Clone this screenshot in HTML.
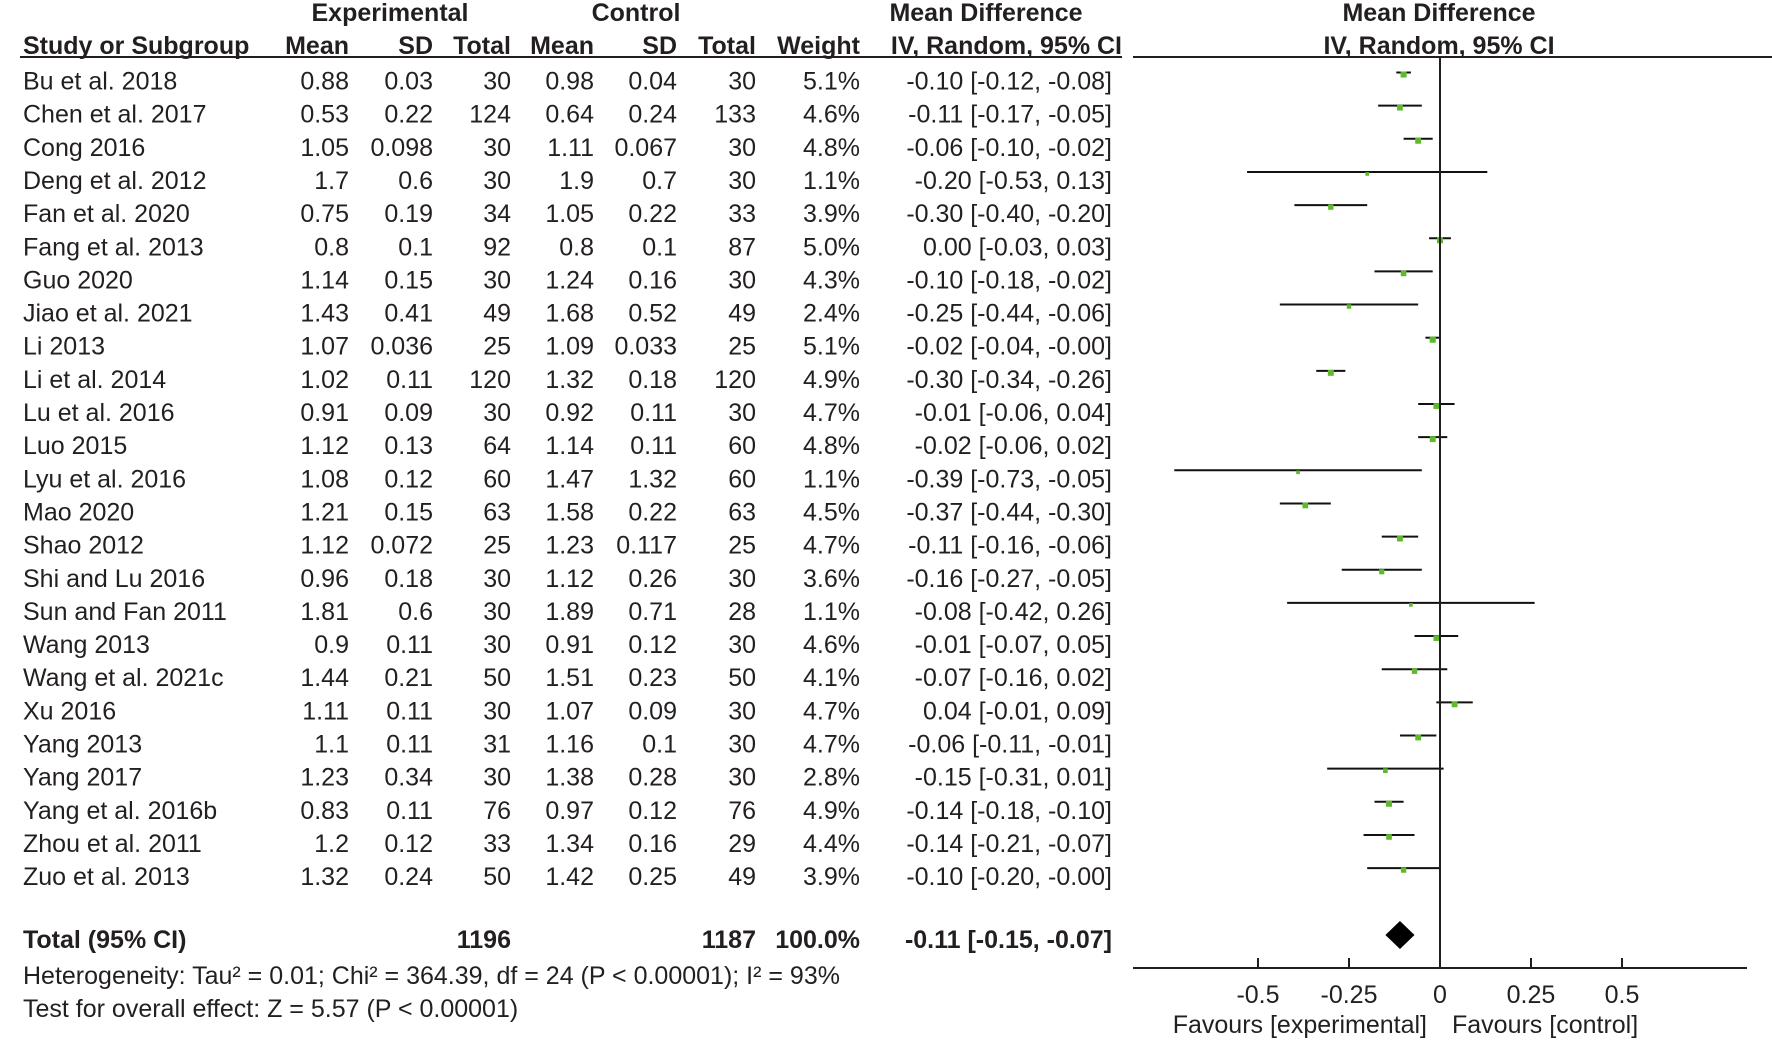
<!DOCTYPE html>
<html><head><meta charset="utf-8">
<style>
body{margin:0;background:#fff;}
svg{display:block;font-family:"Liberation Sans",Arial,sans-serif;fill:#231f20;}
</style></head>
<body>
<svg id="c" width="1772" height="1041" viewBox="0 0 1772 1041" xmlns="http://www.w3.org/2000/svg"></svg>
<script>
const studies=["Bu et al. 2018","Chen et al. 2017","Cong 2016","Deng et al. 2012","Fan et al. 2020","Fang et al. 2013","Guo 2020","Jiao et al. 2021","Li 2013","Li et al. 2014","Lu et al. 2016","Luo 2015","Lyu et al. 2016","Mao 2020","Shao 2012","Shi and Lu 2016","Sun and Fan 2011","Wang 2013","Wang et al. 2021c","Xu 2016","Yang 2013","Yang 2017","Yang et al. 2016b","Zhou et al. 2011","Zuo et al. 2013"];
const expMean=["0.88","0.53","1.05","1.7","0.75","0.8","1.14","1.43","1.07","1.02","0.91","1.12","1.08","1.21","1.12","0.96","1.81","0.9","1.44","1.11","1.1","1.23","0.83","1.2","1.32"];
const expSD=["0.03","0.22","0.098","0.6","0.19","0.1","0.15","0.41","0.036","0.11","0.09","0.13","0.12","0.15","0.072","0.18","0.6","0.11","0.21","0.11","0.11","0.34","0.11","0.12","0.24"];
const expN=["30","124","30","30","34","92","30","49","25","120","30","64","60","63","25","30","30","30","50","30","31","30","76","33","50"];
const ctlMean=["0.98","0.64","1.11","1.9","1.05","0.8","1.24","1.68","1.09","1.32","0.92","1.14","1.47","1.58","1.23","1.12","1.89","0.91","1.51","1.07","1.16","1.38","0.97","1.34","1.42"];
const ctlSD=["0.04","0.24","0.067","0.7","0.22","0.1","0.16","0.52","0.033","0.18","0.11","0.11","1.32","0.22","0.117","0.26","0.71","0.12","0.23","0.09","0.1","0.28","0.12","0.16","0.25"];
const ctlN=["30","133","30","30","33","87","30","49","25","120","30","60","60","63","25","30","28","30","50","30","30","30","76","29","49"];
const weights=[5.1,4.6,4.8,1.1,3.9,5.0,4.3,2.4,5.1,4.9,4.7,4.8,1.1,4.5,4.7,3.6,1.1,4.6,4.1,4.7,4.7,2.8,4.9,4.4,3.9];
const md=["-0.10","-0.11","-0.06","-0.20","-0.30","0.00","-0.10","-0.25","-0.02","-0.30","-0.01","-0.02","-0.39","-0.37","-0.11","-0.16","-0.08","-0.01","-0.07","0.04","-0.06","-0.15","-0.14","-0.14","-0.10"];
const ciLo=["-0.12","-0.17","-0.10","-0.53","-0.40","-0.03","-0.18","-0.44","-0.04","-0.34","-0.06","-0.06","-0.73","-0.44","-0.16","-0.27","-0.42","-0.07","-0.16","-0.01","-0.11","-0.31","-0.18","-0.21","-0.20"];
const ciHi=["-0.08","-0.05","-0.02","0.13","-0.20","0.03","-0.02","-0.06","-0.00","-0.26","0.04","0.02","-0.05","-0.30","-0.06","-0.05","0.26","0.05","0.02","0.09","-0.01","0.01","-0.10","-0.07","-0.00"];
const ticks=[-0.5,-0.25,0,0.25,0.5];
const tickLabels=["-0.5","-0.25","0","0.25","0.5"];
const pooled=["-0.11","-0.15","-0.07"];

const svg=document.getElementById('c');
const NS="http://www.w3.org/2000/svg";
const FS=25;
const X=v=>1440+parseFloat(v)*364;
const Y=i=>81.5+i*33.15;
function el(tag,attrs,txt){const e=document.createElementNS(NS,tag);for(const k in attrs)e.setAttribute(k,attrs[k]);if(txt!==undefined)e.textContent=txt;svg.appendChild(e);return e;}
function txt(x,y,s,anchor,bold,name){const t=el('text',{x:x,y:y,'font-size':FS,'text-anchor':anchor,'dominant-baseline':'central','font-weight':bold?'bold':'normal'},s);


return t;}
txt(390,13,"Experimental","middle",true,"experimental-header");
txt(636,13,"Control","middle",true,"control-header");
txt(986,13,"Mean Difference","middle",true,"md-header");
txt(1439,13,"Mean Difference","middle",true,"md-plot-header");
txt(23,46,"Study or Subgroup","start",true,"study-header");
const hcols=[[349,"Mean"],[433,"SD"],[511,"Total"],[594,"Mean"],[677,"SD"],[756,"Total"],[860,"Weight"]];
hcols.forEach(h=>txt(h[0],46,h[1],"end",true,"column-header"));
txt(1122,46,"IV, Random, 95% CI","end",true,"ci-header");
txt(1439,46,"IV, Random, 95% CI","middle",true,"ci-plot-header");
let l=el('line',{x1:20,y1:57,x2:1122,y2:57,stroke:'#231f20','stroke-width':2});


l=el('line',{x1:1133,y1:57,x2:1772,y2:57,stroke:'#231f20','stroke-width':2});


studies.forEach((s,i)=>{
  const y=Y(i);
  txt(23,y,s,"start",false,"study-name");
  txt(349,y,expMean[i],"end",false,"exp-mean");
  txt(433,y,expSD[i],"end",false,"exp-sd");
  txt(511,y,expN[i],"end",false,"exp-total");
  txt(594,y,ctlMean[i],"end",false,"ctl-mean");
  txt(677,y,ctlSD[i],"end",false,"ctl-sd");
  txt(756,y,ctlN[i],"end",false,"ctl-total");
  txt(860,y,weights[i].toFixed(1)+"%","end",false,"weight");
  txt(1112,y,md[i]+" ["+ciLo[i]+", "+ciHi[i]+"]","end",false,"effect-ci");
  const ly=y-9;
  const ci=el('line',{x1:X(ciLo[i]),y1:ly,x2:X(ciHi[i]),y2:ly,stroke:'#111','stroke-width':2});
  
  
  const sz=3+weights[i]*0.6;
  const sq=el('rect',{x:X(md[i])-sz/2,y:ly+2-sz/2,width:sz,height:sz,fill:'#5dbb2a'});
  
  
});
const ty=940;
txt(23,ty,"Total (95% CI)","start",true,"total-label");
txt(511,ty,"1196","end",true,"exp-total-sum");
txt(756,ty,"1187","end",true,"ctl-total-sum");
txt(860,ty,"100.0%","end",true,"total-weight");
txt(1112,ty,pooled[0]+" ["+pooled[1]+", "+pooled[2]+"]","end",true,"pooled-ci");
txt(23,976,"Heterogeneity: Tau² = 0.01; Chi² = 364.39, df = 24 (P < 0.00001); I² = 93%","start",false,"heterogeneity");
txt(23,1009,"Test for overall effect: Z = 5.57 (P < 0.00001)","start",false,"overall-effect");
l=el('line',{x1:X(0),y1:57,x2:X(0),y2:968,stroke:'#231f20','stroke-width':2});


const dm=el('polygon',{points:`${X(pooled[1])},${ty-5} ${X(pooled[0])},${ty-19} ${X(pooled[2])},${ty-5} ${X(pooled[0])},${ty+9}`,fill:'#000'});


l=el('line',{x1:1133,y1:968,x2:1747,y2:968,stroke:'#231f20','stroke-width':2});


ticks.forEach((t,i)=>{
  const tk=el('line',{x1:X(t),y1:958,x2:X(t),y2:968,stroke:'#231f20','stroke-width':2});
  
  
  txt(X(t),995,tickLabels[i],"middle",false,"x-tick-label");
});
txt(1427,1025,"Favours [experimental]","end",false,"favours-experimental");
txt(1452,1025,"Favours [control]","start",false,"favours-control");
</script>
</body></html>
